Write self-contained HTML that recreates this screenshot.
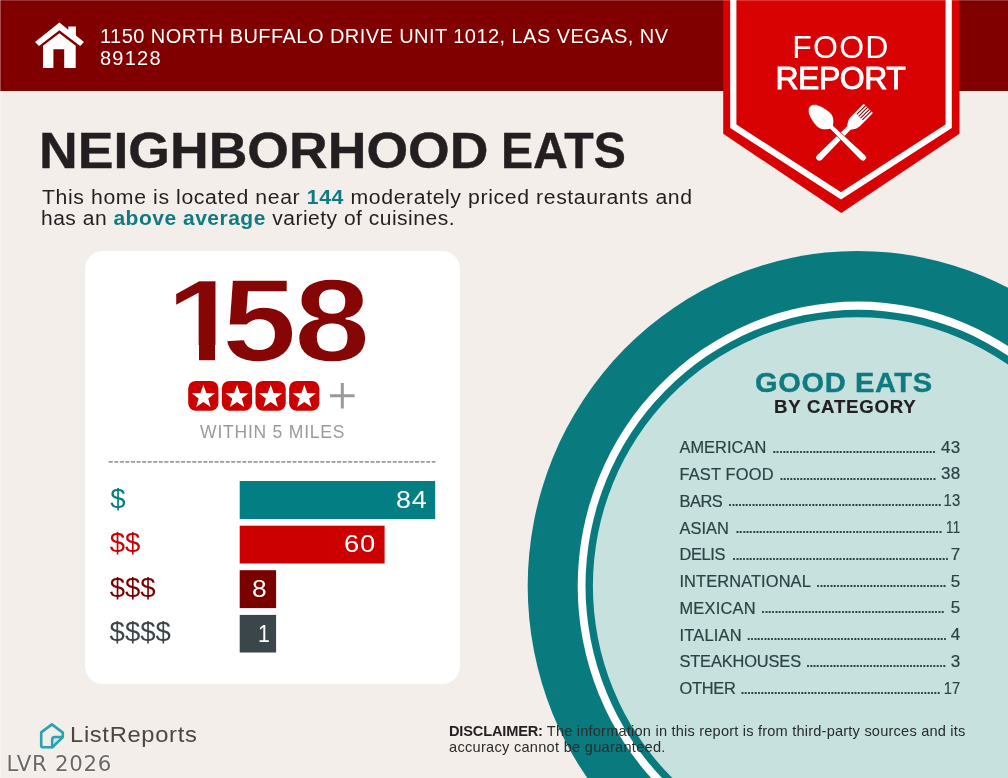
<!DOCTYPE html>
<html lang="en">
<head>
<meta charset="utf-8">
<title>Neighborhood Eats - Food Report</title>
<style>
*{margin:0;padding:0;box-sizing:border-box}
html,body{width:1008px;height:778px;overflow:hidden;background:#f3eeea}
body{font-family:"Liberation Sans",sans-serif;position:relative;color:#231f20}
#page{position:absolute;left:0;top:0;width:1008px;height:778px;overflow:hidden;background:#f3eeea}
.t{position:absolute;white-space:nowrap;line-height:1;transform-origin:0 0}
#big span,#title span{position:absolute;top:0;transform-origin:0 0;line-height:1;white-space:nowrap}
#big i{position:absolute;top:83.4px;height:23.5px;background:#fff}
#hdr{position:absolute;left:0;top:0;width:1008px;height:91px;background:#800000}
#card{position:absolute;left:84.5px;top:251px;width:375.5px;height:432.7px;background:#fff;border-radius:18px}
svg{position:absolute;left:0;top:0}
.row{position:absolute;left:680px;width:280px;height:16px;font-size:16.4px;color:#2d4245;-webkit-text-stroke:0.2px #2d4245}
.row .l{position:absolute;left:-0.6px;top:0;line-height:1;white-space:nowrap;letter-spacing:0.25px}
.row .v{position:absolute;right:-0.2px;top:-0.5px;line-height:1;white-space:nowrap;font-size:17px;letter-spacing:0.3px;margin-right:-0.3px}
.row .d{position:absolute;top:-1.35px;line-height:1;white-space:nowrap;font-size:18px;letter-spacing:-1.674px}
</style>
</head>
<body>
<div id="page">
  <!-- circle plate -->
  <svg width="1008" height="778" viewBox="0 0 1008 778">
    <ellipse cx="857.7" cy="586" rx="330" ry="335" fill="#097b7f"/>
    <ellipse cx="857.7" cy="586" rx="280" ry="284.4" fill="#ffffff"/>
    <ellipse cx="857.7" cy="586" rx="272.2" ry="276.2" fill="#097b7f"/>
    <ellipse cx="857.7" cy="586" rx="264.8" ry="268.8" fill="#c6e1de"/>
  </svg>

  <div id="hdr"></div>
  <div style="position:absolute;left:0;top:0;width:1008px;height:1px;background:rgba(255,255,255,0.2);z-index:5"></div>
  <div style="position:absolute;left:0;top:0;width:1px;height:778px;background:rgba(255,255,255,0.3);z-index:5"></div>
  <div style="position:absolute;left:0;top:91px;width:723px;height:1px;background:rgba(255,255,255,0.4)"></div>
  <div style="position:absolute;left:960px;top:91px;width:48px;height:1px;background:rgba(255,255,255,0.4)"></div>

  <!-- banner + icons -->
  <svg width="1008" height="778" viewBox="0 0 1008 778">
    <polygon points="723.2,0 959.5,0 959.5,133.8 841.3,213.1 723.2,133.8" fill="#d80202"/>
    <polyline points="733.3,-2 733.3,126.2 841,195.9 948.7,126.2 948.7,-2" fill="none" stroke="#ffffff" stroke-width="6.2" stroke-linejoin="miter"/>
    <!-- house -->
    <g fill="#ffffff">
      <polygon points="59.4,22.6 68.3,29.8 68.3,26.4 75.9,26.4 75.9,35.6 84,41.9 80.2,46 59.4,30.2 39,46 35,41.9"/>
      <path d="M59.4,33.3 L75.7,45.7 L75.7,68 L64.2,68 L64.2,49.3 L53.4,49.3 L53.4,68 L43,68 L43,45.7 Z"/>
    </g>
    <!-- spoon & fork -->
    <g fill="#ffffff">
      <g transform="translate(868.1,108.7) rotate(45)">
        <path d="M-6.55,0.4 L-6.2,-0.3 L6.2,-0.3 L6.55,0.4 L6.55,17.5 C6.55,22 4.6,24 2.4,27.2 L3.2,68.9 A3.2,3.2 0 0 1 -3.2,68.9 L-2.4,27.2 C-4.6,24 -6.55,22 -6.55,17.5 Z"/>
        <path d="M-3.93,-0.5 V12 M-1.31,-0.5 V12 M1.31,-0.5 V12 M3.93,-0.5 V12" stroke="#8e0000" stroke-width="1.05" fill="none"/>
      </g>
      <g transform="translate(810.1,106.6) rotate(-46)">
        <path d="M0,-0.4 C5.2,-0.4 8.7,7 9.6,17 C10.4,23 7,27 2.3,30 L3.4,73.5 A3.4,3.4 0 0 1 -3.4,73.5 L-2.3,30 C-7,27 -10.4,23 -9.6,17 C-8.7,7 -5.2,-0.4 0,-0.4 Z" stroke="#c40000" stroke-width="0.7"/>
      </g>
    </g>
    <!-- listreports logo -->
    <path d="M51.9,724.4 L62.8,732.6 L62.8,737 L52.4,747.3 L43,747.3 Q41.2,747.3 41.2,745.5 L41.2,732.4 Z" fill="none" stroke="#2ba2b3" stroke-width="2.6" stroke-linejoin="round"/>
    <path d="M62.8,737 L54.8,737 Q52.1,737 52.1,739.7 L52.1,747.3 Z" fill="#b9ecf0" stroke="#2ba2b3" stroke-width="2.4" stroke-linejoin="round"/>
  </svg>

  <!-- header text -->
  <div class="t" id="addr1" style="left:100px;top:25.8px;font-size:20px;color:#fff;letter-spacing:0.44px">1150 NORTH BUFFALO DRIVE UNIT 1012, LAS VEGAS, NV</div>
  <div class="t" id="addr2" style="left:100px;top:47.8px;font-size:20px;color:#fff;letter-spacing:1.25px">89128</div>
  <div class="t" id="food" style="left:792.2px;top:31.3px;font-size:32px;color:#fff;letter-spacing:1.27px">FOOD</div>
  <div class="t" id="report" style="left:775.5px;top:61.5px;font-size:32px;color:#fff;letter-spacing:-0.5px;-webkit-text-stroke:0.9px #fff">REPORT</div>

  <!-- title -->
  <h1 class="t" id="title" style="left:0;top:126px;width:700px;height:50px;font-size:50px;font-weight:bold;color:#231f20;-webkit-text-stroke:0.4px #231f20"><span style="left:39.2px;transform:scaleX(1.0715)">NEIGHBORHOOD</span> <span style="left:501.2px;transform:scaleX(0.9632)">EATS</span></h1>
  <div class="t" id="sub1" style="left:41.8px;top:186.5px;font-size:20px;color:#231f20;letter-spacing:0.57px;transform:scaleX(1.0616)">This home is located near <b style="color:#0f7b80">144</b> moderately priced restaurants and</div>
  <div class="t" id="sub2" style="left:40.8px;top:207.8px;font-size:20px;color:#231f20;letter-spacing:0.47px;transform:scaleX(1.0509)">has an <b style="color:#0f7b80">above average</b> variety of cuisines.</div>

  <!-- card -->
  <div id="card"></div>
  <div class="t" id="big" style="left:0;top:261.9px;width:460px;height:117.5px;font-size:117.5px;font-weight:bold;color:#860606;-webkit-text-stroke:1.5px #fff"><span style="left:165.7px;transform:scaleX(1.1575)">1</span><i style="left:164px;width:34.5px"></i><i style="left:215.3px;width:26px"></i><span style="left:221.8px;transform:scaleX(1.144)">5</span><span style="left:293.9px;transform:scaleX(1.167)">8</span></div>
  <svg width="1008" height="778" viewBox="0 0 1008 778">
    <g transform="translate(188.20,380.9)"><rect x="0" y="0" width="30.2" height="29.8" rx="7.5" fill="#cc0000"/><polygon fill="#fff" points="15.2,3.9 18.1,12.2 26.9,12.4 20.0,17.7 22.4,26.2 15.2,21.2 8.0,26.2 10.4,17.7 3.5,12.4 12.3,12.2"/></g>
    <g transform="translate(221.85,380.9)"><rect x="0" y="0" width="30.2" height="29.8" rx="7.5" fill="#cc0000"/><polygon fill="#fff" points="15.2,3.9 18.1,12.2 26.9,12.4 20.0,17.7 22.4,26.2 15.2,21.2 8.0,26.2 10.4,17.7 3.5,12.4 12.3,12.2"/></g>
    <g transform="translate(255.50,380.9)"><rect x="0" y="0" width="30.2" height="29.8" rx="7.5" fill="#cc0000"/><polygon fill="#fff" points="15.2,3.9 18.1,12.2 26.9,12.4 20.0,17.7 22.4,26.2 15.2,21.2 8.0,26.2 10.4,17.7 3.5,12.4 12.3,12.2"/></g>
    <g transform="translate(289.15,380.9)"><rect x="0" y="0" width="30.2" height="29.8" rx="7.5" fill="#cc0000"/><polygon fill="#fff" points="15.2,3.9 18.1,12.2 26.9,12.4 20.0,17.7 22.4,26.2 15.2,21.2 8.0,26.2 10.4,17.7 3.5,12.4 12.3,12.2"/></g>
    <path d="M330,395.7 H354.6 M342.3,383 V408.5" stroke="#999" stroke-width="3" fill="none"/>
    <path d="M108.7,461.9 H435.4" stroke="#9b9b9b" stroke-width="1.8" stroke-dasharray="4 1.57" fill="none"/>
  </svg>
  <div class="t" id="within" style="left:200.1px;top:424px;font-size:17.5px;color:#9a9a9a;letter-spacing:0.78px">WITHIN 5 MILES</div>

  <svg width="1008" height="778" viewBox="0 0 1008 778">
    <rect x="239.7" y="481" width="195.5" height="38" fill="#037e82"/>
    <rect x="239.7" y="525.7" width="144.9" height="37.8" fill="#cc0000"/>
    <rect x="239.7" y="570.2" width="36.4" height="37.9" fill="#7a0000"/>
    <rect x="239.7" y="614.9" width="36.4" height="37.6" fill="#3a4649"/>
  </svg>

  <div class="t" id="d1" style="left:110.3px;top:484.6px;font-size:27.5px;color:#037e82">$</div>
  <div class="t" id="d2" style="left:109.8px;top:529.2px;font-size:27.5px;color:#cc0000">$$</div>
  <div class="t" id="d3" style="left:109.7px;top:573.8px;font-size:27.5px;color:#7a0000">$$$</div>
  <div class="t" id="d4" style="left:109.6px;top:618.4px;font-size:27.5px;color:#3a4649">$$$$</div>

  <div class="t" id="v1" style="left:395.5px;top:488.5px;font-size:23.2px;color:#fff;letter-spacing:0.6px;transform:scaleX(1.16)">84</div>
  <div class="t" id="v2" style="left:344.1px;top:533.4px;font-size:23.2px;color:#fff;letter-spacing:0.6px;transform:scaleX(1.18)">60</div>
  <div class="t" id="v3" style="left:251.6px;top:577.5px;font-size:23.2px;color:#fff;transform:scaleX(1.14)">8</div>
  <div class="t" id="v4" style="left:257.5px;top:622.6px;font-size:23.2px;color:#fff;transform:scaleX(0.92)">1</div>

  <!-- good eats -->
  <div class="t" id="ge" style="left:755.4px;top:367.9px;font-size:28.3px;font-weight:bold;color:#0f7b80;letter-spacing:0.56px;transform:scaleX(1.0287);-webkit-text-stroke:0.4px #0f7b80">GOOD EATS</div>
  <div class="t" id="bc" style="left:773.5px;top:399.3px;font-size:17.7px;font-weight:bold;color:#231f20;letter-spacing:0.70px;transform:scaleX(1.053);-webkit-text-stroke:0.2px #231f20">BY CATEGORY</div>

  <div class="row" style="top:439.1px"><span class="l" style="letter-spacing:0.06px">AMERICAN</span><span class="d" style="left:91.8px">.................................................</span><span class="v">43</span></div>
  <div class="row" style="top:465.9px"><span class="l" style="letter-spacing:0.19px">FAST FOOD</span><span class="d" style="left:98.9px">...............................................</span><span class="v">38</span></div>
  <div class="row" style="top:492.7px"><span class="l" style="letter-spacing:-0.42px">BARS</span><span class="d" style="left:47.6px">................................................................</span><span class="v" style="transform:scaleX(0.87);transform-origin:100% 50%">13</span></div>
  <div class="row" style="top:519.5px"><span class="l" style="letter-spacing:0.08px">ASIAN</span><span class="d" style="left:55.0px">..............................................................</span><span class="v" style="transform:scaleX(0.78);transform-origin:100% 50%">11</span></div>
  <div class="row" style="top:546.2px"><span class="l" style="letter-spacing:-0.35px">DELIS</span><span class="d" style="left:51.6px">.................................................................</span><span class="v">7</span></div>
  <div class="row" style="top:573.0px"><span class="l" style="letter-spacing:0.12px">INTERNATIONAL</span><span class="d" style="left:135.6px">.......................................</span><span class="v">5</span></div>
  <div class="row" style="top:599.8px"><span class="l" style="letter-spacing:0.25px">MEXICAN</span><span class="d" style="left:80.6px">.......................................................</span><span class="v">5</span></div>
  <div class="row" style="top:626.6px"><span class="l" style="letter-spacing:0.25px">ITALIAN</span><span class="d" style="left:66.3px">............................................................</span><span class="v">4</span></div>
  <div class="row" style="top:653.4px"><span class="l" style="letter-spacing:-0.13px">STEAKHOUSES</span><span class="d" style="left:125.4px">..........................................</span><span class="v">3</span></div>
  <div class="row" style="top:680.1px"><span class="l" style="letter-spacing:-0.22px">OTHER</span><span class="d" style="left:59.9px">............................................................</span><span class="v" style="transform:scaleX(0.86);transform-origin:100% 50%">17</span></div>

  <!-- footer -->
  <div class="t" id="lr" style="left:69.7px;top:724.2px;font-size:22.6px;color:#4b4745;letter-spacing:0.64px;transform:scaleX(1.0509)">ListReports</div>
  <div class="t" id="lvr" style="left:6.5px;top:752.7px;font-size:21.3px;font-family:'DejaVu Sans','Liberation Sans',sans-serif;color:#6b6865;text-shadow:0 0 2px #fff,0 0 2px #fff;letter-spacing:0.69px">LVR 2026</div>
  <div class="t" id="disc1" style="left:449px;top:724.2px;font-size:14.6px;color:#2b2b2b;letter-spacing:0.20px"><b style="color:#231f20;letter-spacing:-0.17px">DISCLAIMER:</b> The information in this report is from third-party sources and its</div>
  <div class="t" id="disc2" style="left:449px;top:739.5px;font-size:14.6px;color:#2b2b2b;letter-spacing:0.27px">accuracy cannot be guaranteed.</div>
</div>
</body>
</html>
